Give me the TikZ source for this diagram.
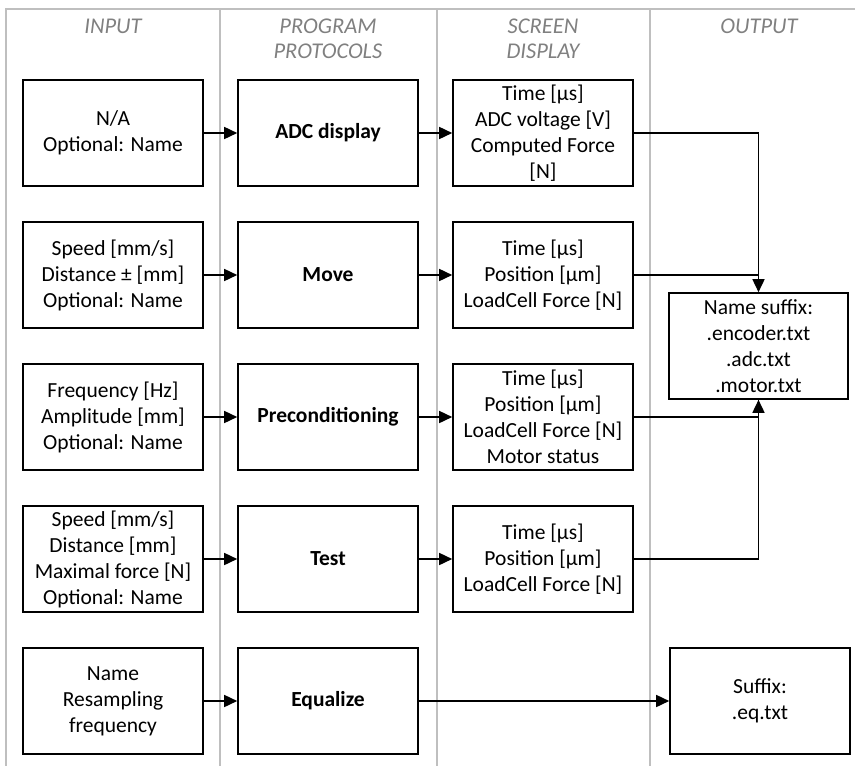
\documentclass[tikz,border=0pt]{standalone}
\usepackage{fontspec}
\setmainfont{Carlito}
\usepackage{tikz}
\usetikzlibrary{arrows.meta}
\definecolor{lanegray}{RGB}{191,191,191}
\definecolor{headgray}{RGB}{128,128,128}
\tikzstyle{box} = [draw=black, line width=1.6pt, minimum width=180pt, minimum height=106pt, inner sep=0pt, align=center]
\tikzstyle{flow} = [line width=1.6pt, -{Triangle[length=13pt,width=12pt]}]
\tikzstyle{merge} = [line width=1.6pt]
\tikzstyle{lane} = [draw=lanegray, line width=1.5pt]
\tikzstyle{head} = [anchor=north, align=center, text=headgray, font=\itshape\fontsize{22.5}{25}\selectfont, inner sep=0pt]

\begin{document}
\begin{tikzpicture}[x=1pt, y=1pt, every node/.append style={font=\fontsize{21.5}{26}\selectfont}]
            \useasboundingbox (0,0) rectangle (855,-766);
            % swim lanes
            \draw [lane] (6,-766) -- (6,-9) -- (855,-9);
            \draw [lane] (220,-9) -- (220,-766);
            \draw [lane] (437,-9) -- (437,-766);
            \draw [lane] (650,-9) -- (650,-766);
            \node [head] (hin) at (113,-19) {INPUT};
            \node [head] (hprog) at (328,-19) {PROGRAM\\PROTOCOLS};
            \node [head] (hscr) at (543,-19) {SCREEN\\DISPLAY};
            \node [head] (hout) at (759,-19) {OUTPUT};
            % input column
            \node [box] (in1) at (113,-133) {N/A\\Optional: Name};
            \node [box] (in2) at (113,-275) {Speed [mm/s]\\Distance ± [mm]\\Optional: Name};
            \node [box] (in3) at (113,-417) {Frequency [Hz]\\Amplitude [mm]\\Optional: Name};
            \node [box] (in4) at (113,-559) {Speed [mm/s]\\Distance [mm]\\Maximal force [N]\\Optional: Name};
            \node [box] (in5) at (113,-701) {Name\\Resampling\\frequency};
            % program protocols
            \node [box, font=\bfseries\fontsize{21.5}{26}\selectfont] (prog1) at (328,-133) {ADC display};
            \node [box, font=\bfseries\fontsize{21.5}{26}\selectfont] (prog2) at (328,-275) {Move};
            \node [box, font=\bfseries\fontsize{21.5}{26}\selectfont] (prog3) at (328,-417) {Preconditioning};
            \node [box, font=\bfseries\fontsize{21.5}{26}\selectfont] (prog4) at (328,-559) {Test};
            \node [box, font=\bfseries\fontsize{21.5}{26}\selectfont] (prog5) at (328,-701) {Equalize};
            % screen display
            \node [box] (scr1) at (543,-133) {Time [µs]\\ADC voltage [V]\\Computed Force\\{[N]}};
            \node [box] (scr2) at (543,-275) {Time [µs]\\Position [µm]\\LoadCell Force [N]};
            \node [box] (scr3) at (543,-417) {Time [µs]\\Position [µm]\\LoadCell Force [N]\\Motor status};
            \node [box] (scr4) at (543,-559) {Time [µs]\\Position [µm]\\LoadCell Force [N]};
            % output
            \node [box, minimum width=179pt] (out) at (758.5,-346) {Name suffix:\\.encoder.txt\\.adc.txt\\.motor.txt};
            \node [box] (eqout) at (760,-701) {Suffix:\\.eq.txt};
            % arrows
            \draw [flow] (in1) -- (prog1);
            \draw [flow] (in2) -- (prog2);
            \draw [flow] (in3) -- (prog3);
            \draw [flow] (in4) -- (prog4);
            \draw [flow] (in5) -- (prog5);
            \draw [flow] (prog1) -- (scr1);
            \draw [flow] (prog2) -- (scr2);
            \draw [flow] (prog3) -- (scr3);
            \draw [flow] (prog4) -- (scr4);
            \draw [flow] (prog5) -- (eqout);
            \draw [flow] (scr1.east) -| (out.north);
            \draw [merge] (scr2.east) -- (scr2.east -| out.north);
            \draw [flow] (scr3.east) -| (out.south);
            \draw [merge] (scr4.east) -| (out.south);
\end{tikzpicture}
\end{document}
